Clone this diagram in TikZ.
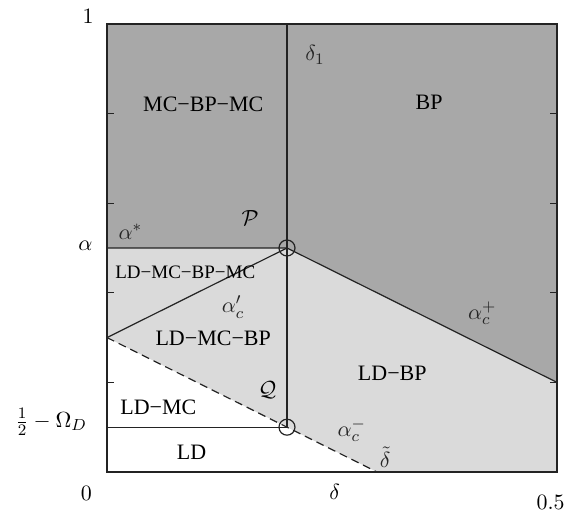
\documentclass[tikz,border=0pt]{standalone}
\usepackage{fontspec}
\setmainfont{Liberation Serif}
\usepackage{xcolor}
\definecolor{phasedark}{RGB}{168,168,168}
\definecolor{phaselight}{RGB}{218,218,218}
\definecolor{linegray}{RGB}{35,35,35}
\usetikzlibrary{positioning,calc}

\begin{document}
\begin{tikzpicture}[
  x=450pt, y=224pt,
  bound/.style={line width=0.6pt, color=linegray},
  dashbound/.style={line width=0.6pt, color=linegray, dash pattern=on 4pt off 2.5pt},
  phase/.style={font=\fontsize{11}{13}\selectfont, text=black, inner sep=0pt},
  smallphase/.style={font=\fontsize{9.5}{11}\selectfont, text=black, inner sep=0pt},
  curvelabel/.style={font=\fontsize{11}{13}\selectfont, text=black!85, inner sep=0pt},
  axislabel/.style={font=\fontsize{11}{13}\selectfont, inner sep=0pt},
  pointmark/.style={circle, draw=linegray, line width=0.6pt, minimum size=8pt, inner sep=0pt}
]
\useasboundingbox (-53.5pt,-20pt) rectangle (233.5pt,236pt);

%% corner and boundary points
\coordinate (O) at (0,0);
\coordinate (TL) at (0,1);
\coordinate (TR) at (0.5,1);
\coordinate (BR) at (0.5,0);
\coordinate (A) at (0,0.5);
\coordinate (L) at (0,0.3);
\coordinate (W) at (0,0.1);
\coordinate (D1) at (0.2,1);
\coordinate (R) at (0.5,0.2);
\coordinate (Dt) at (0.3,0);

%% phase regions
\fill[phaselight] (L) -- (A) -- (0.2,0.5) -- (R) -- (BR) -- (Dt) -- cycle;
\fill[phasedark] (A) -- (0.2,0.5) -- (R) -- (TR) -- (TL) -- cycle;

%% special points
\node[pointmark] (P) at (0.2,0.5) {};
\node[pointmark] (Q) at (0.2,0.1) {};

%% phase boundaries
\draw[bound] (A) -- (P.center) -- (R);
\draw[bound] (L) -- (P.center);
\draw[bound] (D1) -- (Q.center);
\draw[bound] (W) -- (Q.center);
\draw[dashbound] (L) -- (Dt);
\draw[bound] (O) rectangle (TR);

%% ticks
\foreach \a in {0.2,0.4,0.6,0.8} {
  \draw[bound] (0,\a) -- ++(3.5pt,0);
  \draw[bound] (0.5,\a) -- ++(-3.5pt,0);
}

%% axis labels
\node[axislabel] (one) at (-0.021,1.016) {$1$};
\node[axislabel] (zero) at (-0.023,-0.049) {$0$};
\node[axislabel] (half) at (0.493,-0.069) {$0.5$};
\node[axislabel] (dlab) at (0.253,-0.045) {$\delta$};
\node[axislabel] (alab) at (-0.024,0.504) {$\alpha$};
\node[axislabel] (omlab) at (-0.062,0.112) {$\frac{1}{2}-\Omega_D$};

%% phase names
\node[phase] (mbm) at (0.107,0.821) {MC−BP−MC};
\node[phase] (bp) at (0.358,0.826) {BP};
\node[smallphase] (lmbm) at (0.087,0.446) {LD−MC−BP−MC};
\node[phase] (lmb) at (0.118,0.299) {LD−MC−BP};
\node[phase] (lb) at (0.317,0.221) {LD−BP};
\node[phase] (lm) at (0.057,0.145) {LD−MC};
\node[phase] (ld) at (0.094,0.045) {LD};

%% curve and point labels
\node[curvelabel] (d1lab) at (0.231,0.931) {$\delta_1$};
\node[curvelabel] (aslab) at (0.026,0.536) {$\alpha^*$};
\node[curvelabel, text=black] (plab) at (0.159,0.567) {$\mathcal{P}$};
\node[curvelabel] (acplab) at (0.140,0.368) {$\alpha'_c$};
\node[curvelabel] (acpluslab) at (0.417,0.354) {$\alpha_c^+$};
\node[curvelabel, text=black] (qlab) at (0.178,0.183) {$\mathcal{Q}$};
\node[curvelabel] (acminuslab) at (0.272,0.093) {$\alpha_c^-$};
\node[curvelabel] (dtlab) at (0.309,0.033) {$\tilde{\delta}$};

\end{tikzpicture}
\end{document}
